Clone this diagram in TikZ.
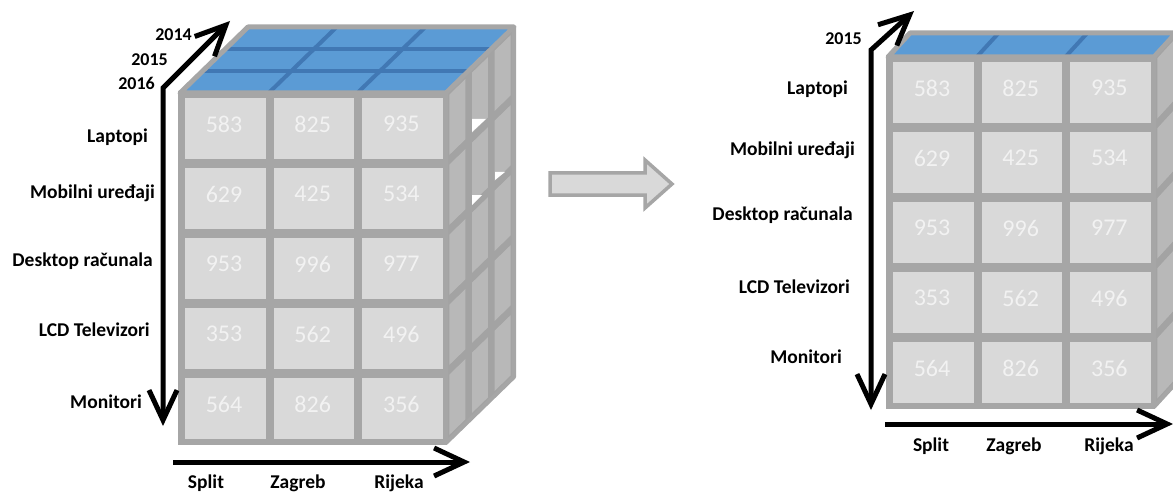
\documentclass[tikz,border=0pt]{standalone}
\usepackage{fontspec}
\setmainfont{Carlito}
\usetikzlibrary{arrows.meta,calc}
\definecolor{edgegray}{HTML}{A6A6A6}
\definecolor{cellfill}{HTML}{D9D9D9}
\definecolor{sidebg}{HTML}{A3A3A3}
\definecolor{sidecell}{HTML}{B8B8B8}
\definecolor{topblue}{HTML}{5B9BD5}
\definecolor{topline}{HTML}{4178B4}
\definecolor{numwhite}{HTML}{F2F2F2}
\tikzset{
  lbl/.style={font=\bfseries\fontsize{19.5}{21}\selectfont, text=black, inner sep=0pt},
  yr/.style={font=\bfseries\fontsize{18}{20}\selectfont, text=black, inner sep=0pt},
  num/.style={font=\fontsize{24}{26}\selectfont, text=numwhite, inner sep=0pt},
  axis/.style={line width=5pt, draw=black, line join=miter},
  barb/.tip={Straight Barb[length=30pt,width=28pt,line width=5pt]},
  face/.style={line width=4pt, draw=edgegray, line join=round},
}
\begin{document}
\begin{tikzpicture}[x=1pt,y=-1pt]
\useasboundingbox (0,0) rectangle (1173,492);

% ================= LEFT CUBE =================
\begin{scope}[shift={(180,93)}]
  % top face
  \fill[topblue] (0,0) -- (68,-66) -- (334,-66) -- (266,0) -- cycle;
  \foreach \u in {1,2} {
    \draw[topline, line width=4pt] ({266*\u/3},0) -- ({266*\u/3+68},-66);
    \draw[topline, line width=4pt] ({68*\u/3},{-66*\u/3}) -- ({266+68*\u/3},{-66*\u/3});
  }
  \draw[face, line width=5pt] (0,0) -- (68,-66) -- (334,-66) -- (266,0) -- cycle;
  % right side face
  \fill[sidebg] (266,0) -- (334,-66) -- (334,284) -- (266,350) -- cycle;
  \foreach \i in {0,1,2} {
    \foreach \r in {0,...,4} {
      \pgfmathsetmacro{\ta}{\i/3+0.05}
      \pgfmathsetmacro{\tb}{(\i+1)/3-0.05}
      \pgfmathsetmacro{\sa}{\r/5+0.014}
      \pgfmathsetmacro{\sb}{(\r+1)/5-0.014}
      \fill[sidecell] ({266+68*\ta},{350*\sa-66*\ta}) -- ({266+68*\tb},{350*\sa-66*\tb})
        -- ({266+68*\tb},{350*\sb-66*\tb}) -- ({266+68*\ta},{350*\sb-66*\ta}) -- cycle;
    }
  }
  \draw[face] (266,0) -- (334,-66) -- (334,284) -- (266,350) -- cycle;
  % front face
  \fill[edgegray] (-2,-2) rectangle (267,352);
  \foreach \r/\a/\b/\c in {0/583/825/935, 1/629/425/534, 2/953/996/977, 3/353/562/496, 4/564/826/356} {
    \foreach \col/\v in {0/\a, 1/\b, 2/\c} {
      \fill[cellfill] ({\col*88.67+5},{\r*70+5}) rectangle ({(\col+1)*88.67-3},{(\r+1)*70-4});
      \node[num] (L-\r-\col) at ({\col*88.67+44},{\r*70+31}) {\v};
    }
  }
\end{scope}
% white gaps on the left cube side
\fill[white] (472,119) -- (486,119) -- (472,132) -- cycle;
\fill[white] (495,172) -- (505,172) -- (495,180) -- cycle;
\fill[white] (472,195) -- (482,195) -- (472,205) -- cycle;

% left axes
\coordinate (LC) at (163,88);
\coordinate (LT) at (230,21);
\coordinate (LB) at (163,426);
\coordinate (LH0) at (173,462);
\coordinate (LH1) at (470,462);
\draw[axis, barb-barb] (LT) -- (LC) -- (LB);
\draw[axis, -barb] (LH0) -- (LH1);

\node[yr, anchor=east] (l2014) at (192,35) {2014};
\node[yr, anchor=east] (l2015) at (168,60) {2015};
\node[yr, anchor=east] (l2016) at (155,83) {2016};
\node[lbl, anchor=east] (lr1) at (148,137) {Laptopi};
\node[lbl, anchor=east] (lr2) at (155,193) {Mobilni uređaji};
\node[lbl, anchor=east] (lr3) at (153,261) {Desktop računala};
\node[lbl, anchor=east] (lr4) at (150,330) {LCD Televizori};
\node[lbl, anchor=east] (lr5) at (142,402) {Monitori};
\node[lbl] (lc1) at (206,483) {Split};
\node[lbl] (lc2) at (298,483) {Zagreb};
\node[lbl] (lc3) at (399,483) {Rijeka};

% middle block arrow
\draw[fill=cellfill, draw=edgegray, line width=3.5pt, line join=miter]
  (550,173) -- (645,173) -- (645,160) -- (672,184) -- (645,208) -- (645,195) -- (550,195) -- cycle;

% ================= RIGHT CUBE =================
\begin{scope}[shift={(888,57)}]
  \fill[topblue] (0,0) -- (22,-24) -- (288,-24) -- (266,0) -- cycle;
  \foreach \u in {1,2} {
    \draw[topline, line width=4pt] ({266*\u/3},0) -- ({266*\u/3+22},-24);
  }
  \draw[face, line width=5pt] (0,0) -- (22,-24) -- (288,-24) -- (266,0) -- cycle;
  \fill[sidebg] (266,0) -- (288,-24) -- (288,326) -- (266,350) -- cycle;
  \foreach \r in {0,...,4} {
    \pgfmathsetmacro{\ta}{0.15}
    \pgfmathsetmacro{\tb}{0.9}
    \pgfmathsetmacro{\sa}{\r/5+0.014}
    \pgfmathsetmacro{\sb}{(\r+1)/5-0.014}
    \fill[sidecell] ({266+22*\ta},{350*\sa-24*\ta}) -- ({266+22*\tb},{350*\sa-24*\tb})
      -- ({266+22*\tb},{350*\sb-24*\tb}) -- ({266+22*\ta},{350*\sb-24*\ta}) -- cycle;
  }
  \draw[face] (266,0) -- (288,-24) -- (288,326) -- (266,350) -- cycle;
  \fill[edgegray] (-2,-2) rectangle (267,352);
  \foreach \r/\a/\b/\c in {0/583/825/935, 1/629/425/534, 2/953/996/977, 3/353/562/496, 4/564/826/356} {
    \foreach \col/\v in {0/\a, 1/\b, 2/\c} {
      \fill[cellfill] ({\col*88.67+5},{\r*70+5}) rectangle ({(\col+1)*88.67-3},{(\r+1)*70-4});
      \node[num] (R-\r-\col) at ({\col*88.67+44},{\r*70+31}) {\v};
    }
  }
\end{scope}

% right axes
\coordinate (RC) at (871,50);
\coordinate (RT) at (914,11);
\coordinate (RB) at (871,410);
\coordinate (RH0) at (885,424);
\coordinate (RH1) at (1173,424);
\draw[axis, barb-barb] (RT) -- (RC) -- (RB);
\draw[axis, -barb] (RH0) -- (RH1);

\node[yr, anchor=east] (r2015) at (862,39) {2015};
\node[lbl, anchor=east] (rr1) at (848,89) {Laptopi};
\node[lbl, anchor=east] (rr2) at (855,150) {Mobilni uređaji};
\node[lbl, anchor=east] (rr3) at (853,215) {Desktop računala};
\node[lbl, anchor=east] (rr4) at (850,287) {LCD Televizori};
\node[lbl, anchor=east] (rr5) at (842,357) {Monitori};
\node[lbl] (rc1) at (931,446) {Split};
\node[lbl] (rc2) at (1014,446) {Zagreb};
\node[lbl] (rc3) at (1109,446) {Rijeka};
\end{tikzpicture}
\end{document}
